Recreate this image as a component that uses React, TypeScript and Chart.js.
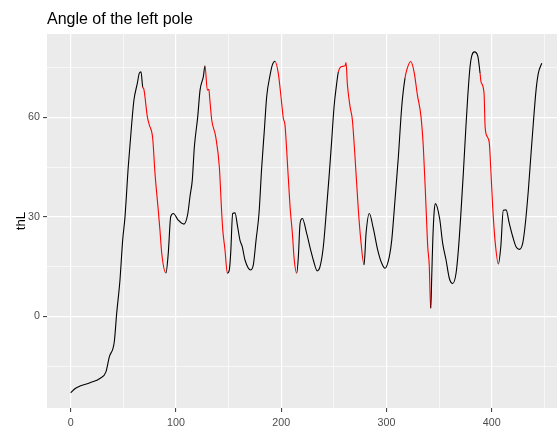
import { useEffect, useRef } from 'react';
import { Chart, registerables } from 'chart.js';

Chart.register(...registerables);

const TITLE = 'Angle of the left pole';
const Y_LABEL = 'thL';

const xMajor = [0, 100, 200, 300, 400];
const xMinor = [50, 150, 250, 350, 450];
const yMajor = [0, 30, 60];
const yMinor = [-15, 15, 45, 75];

// frame index (x) of each sample
const frames = [
  0, 4, 8.8, 18.3, 27.8, 33.5, 36.7, 41.4, 43.7, 46.8, 49.4, 51.6, 54.7, 58.0, 60.1, 63.3, 65.2, 66.8,
  68.4, 69.5, 72.8, 74.7, 77.9, 80.1, 83.2, 84.8, 86.5, 90.5,
  92.7, 95.0, 97.5, 102.2, 107.6, 111.0, 113.5, 115.5, 117.5, 120.7, 122.9, 126.0, 127.6,
  129.8, 131.3, 132.0, 134.0, 137.8, 141.2, 143.5, 144.5, 146.6, 148.8,
  150.7, 152.0, 153.9, 156.1, 158.6, 160.8, 163.0, 165.6, 171.0, 173.5, 176.1, 178.9, 181.5, 184.0, 186.2, 189.4, 191.6, 194.1,
  197.2, 199.8, 202.0, 203.6, 205.2, 208.4, 210.6, 212.4, 214.7,
  216.3, 217.9, 220.1, 224.2, 228.0, 230.5, 234.3, 236.8, 240.0, 243.2, 245.7, 248.0, 250.2, 252.7, 254.3,
  257.5, 260.7, 261.6, 262.8, 265.4, 267.6, 270.1, 273.3, 275.6, 278.7,
  280.6, 283.7, 287.5, 291.7, 295.5, 298.6, 302.7, 305.0, 308.1, 311.3, 314.5, 317.6,
  319.8, 323.0, 326.2, 329.4, 332.8, 335.0, 337.3, 339.2, 340.7, 341.4, 342.1,
  343.0, 344.0, 345.3, 346.5, 350.5, 353.4, 356.6, 359.7, 362.9, 366.1, 368.3, 370.5, 373.0, 375.3, 377.2, 379.4, 381.0, 383.5, 386.7, 388.9,
  389.8, 392.7, 393.7, 395.8, 397.7, 399.0, 400.9, 403.1, 406.3,
  408.6, 411.0, 413.6, 416.7, 420.0, 423.1, 426.2, 429.4, 431.6, 434.8, 437.1, 439.5, 442.1, 444.3, 447.5,
];

// angle of the left pole (thL)
const thL = [
  -23.0, -21.8, -21.0, -20.0, -18.7, -16.7, -12.2, -7.7, 0.9, 10.9, 23.0, 30.0, 45.1, 58.2, 65.2, 70.2, 73.3, 73.7,
  69.2, 68.5, 60.2, 57.7, 53.7, 43.1, 32.0, 26.0, 19.0, 13.1,
  19.0, 30.0, 31.0, 29.0, 27.8, 30.5, 36.5, 41.0, 51.1, 60.2, 68.2, 72.2, 75.5,
  68.2, 68.4, 66.0, 59.2, 54.1, 45.1, 31.0, 26.0, 20.0, 13.0,
  14.0, 19.0, 31.0, 31.2, 27.0, 23.0, 21.0, 17.0, 14.0, 15.5, 23.0, 31.0, 45.1, 56.2, 66.2, 72.7, 75.8, 76.9,
  73.3, 66.2, 59.7, 57.7, 50.1, 33.0, 25.0, 17.0, 13.0,
  18.0, 28.0, 29.5, 25.0, 20.0, 17.0, 13.7, 14.9, 21.0, 33.0, 43.1, 53.2, 63.2, 70.2, 73.7,
  75.3, 75.5, 76.5, 70.2, 63.2, 59.2, 48.1, 32.0, 23.0, 15.5,
  25.0, 31.0, 26.5, 20.0, 16.0, 14.5, 18.0, 23.0, 35.1, 48.1, 63.2, 71.8,
  74.8, 76.8, 73.7, 66.7, 60.2, 51.1, 35.1, 21.0, 15.0, 6.9, 2.4,
  12.0, 23.0, 31.5, 34.0, 29.5, 22.0, 17.0, 11.5, 9.9, 13.0, 20.0, 30.0, 43.1, 56.2, 66.2, 75.3, 78.5, 79.7, 78.5, 73.3,
  70.7, 67.2, 57.2, 54.1, 52.2, 45.1, 33.0, 23.0, 15.8,
  21.0, 32.0, 32.1, 28.0, 24.0, 21.0, 20.2, 22.0, 27.0, 38.1, 48.1, 58.2, 68.2, 73.3, 76.3,
];

// frame ranges drawn in red
const redRanges: [number, number][] = [
  [68.4, 90.5],
  [127.6, 148.8],
  [194.1, 214.7],
  [254.3, 278.7],
  [317.6, 342.1],
  [388.9, 406.3],
];

const FONT = '"Liberation Sans", Arial, Helvetica, sans-serif';

export default function App() {
  const ref = useRef<HTMLCanvasElement | null>(null);

  useEffect(() => {
    if (!ref.current) return;
    const data = frames.map((x, i) => ({ x, y: thL[i] }));
    const isRed = (a: number, b: number) => redRanges.some(([s, e]) => a >= s && b <= e);

    const panelPlugin = {
      id: 'panel',
      beforeDraw(chart: any) {
        const { ctx, chartArea } = chart;
        const { left, top, right, bottom } = chartArea;
        ctx.save();
        ctx.fillStyle = '#EBEBEB';
        ctx.fillRect(left, top, right - left, bottom - top);
        ctx.restore();
      },
      afterDraw(chart: any) {
        const { ctx, chartArea } = chart;
        ctx.save();
        ctx.fillStyle = '#000000';
        ctx.font = `16px ${FONT}`;
        ctx.textAlign = 'left';
        ctx.textBaseline = 'alphabetic';
        ctx.fillText(TITLE, chartArea.left, 24);
        ctx.font = `13.2px ${FONT}`;
        ctx.translate(25, (chartArea.top + chartArea.bottom) / 2);
        ctx.rotate(-Math.PI / 2);
        ctx.textAlign = 'center';
        ctx.fillText(Y_LABEL, 0, 0);
        ctx.restore();
      },
    };

    const gridFor = (major: number[]) => ({
      color: '#FFFFFF',
      lineWidth: (c: any) => (major.includes(c.tick?.value) ? 1.2 : 0.6),
      tickColor: (c: any) => (major.includes(c.tick?.value) ? '#333333' : 'rgba(0,0,0,0)'),
      tickLength: 4,
      tickWidth: 1,
      drawTicks: true,
      drawOnChartArea: true,
    });

    const chart = new Chart(ref.current, {
      type: 'line',
      data: {
        datasets: [
          {
            data,
            borderColor: '#000000',
            borderWidth: 1.1,
            pointRadius: 0,
            cubicInterpolationMode: 'monotone',
            fill: false,
            segment: {
              borderColor: (c: any) => (isRed(c.p0.parsed.x, c.p1.parsed.x) ? '#FF0000' : '#000000'),
            },
          },
        ],
      },
      options: {
        animation: false,
        responsive: false,
        maintainAspectRatio: false,
        layout: { padding: { top: 34, left: 0, right: 0, bottom: 0 } },
        plugins: {
          legend: { display: false },
          tooltip: { enabled: false },
          title: { display: false },
        },
        scales: {
          x: {
            type: 'linear',
            min: -22.5,
            max: 462,
            afterFit: (s: any) => {
              s.height = 22;
            },
            afterBuildTicks: (s: any) => {
              s.ticks = [...xMajor, ...xMinor].sort((a, b) => a - b).map((v) => ({ value: v }));
            },
            ticks: {
              callback: (v: any) => (xMajor.includes(Number(v)) ? String(v) : ''),
              color: '#4D4D4D',
              font: { family: FONT, size: 10.7 },
              padding: 5,
              maxRotation: 0,
              autoSkip: false,
            },
            grid: gridFor(xMajor),
            border: { display: false },
          },
          y: {
            type: 'linear',
            min: -27.6,
            max: 85.1,
            afterFit: (s: any) => {
              s.width = 47;
            },
            afterBuildTicks: (s: any) => {
              s.ticks = [...yMajor, ...yMinor].sort((a, b) => a - b).map((v) => ({ value: v }));
            },
            ticks: {
              callback: (v: any) => (yMajor.includes(Number(v)) ? String(v) : ''),
              color: '#4D4D4D',
              font: { family: FONT, size: 10.7 },
              padding: 3,
              autoSkip: false,
            },
            grid: gridFor(yMajor),
            border: { display: false },
          },
        },
      },
      plugins: [panelPlugin],
    } as any);

    return () => chart.destroy();
  }, []);

  return (
    <div style={{ position: 'absolute', left: 0, top: 0, width: 557, height: 430, background: '#FFFFFF' }}>
      <canvas ref={ref} width={557} height={430} style={{ display: 'block' }} />
    </div>
  );
}
